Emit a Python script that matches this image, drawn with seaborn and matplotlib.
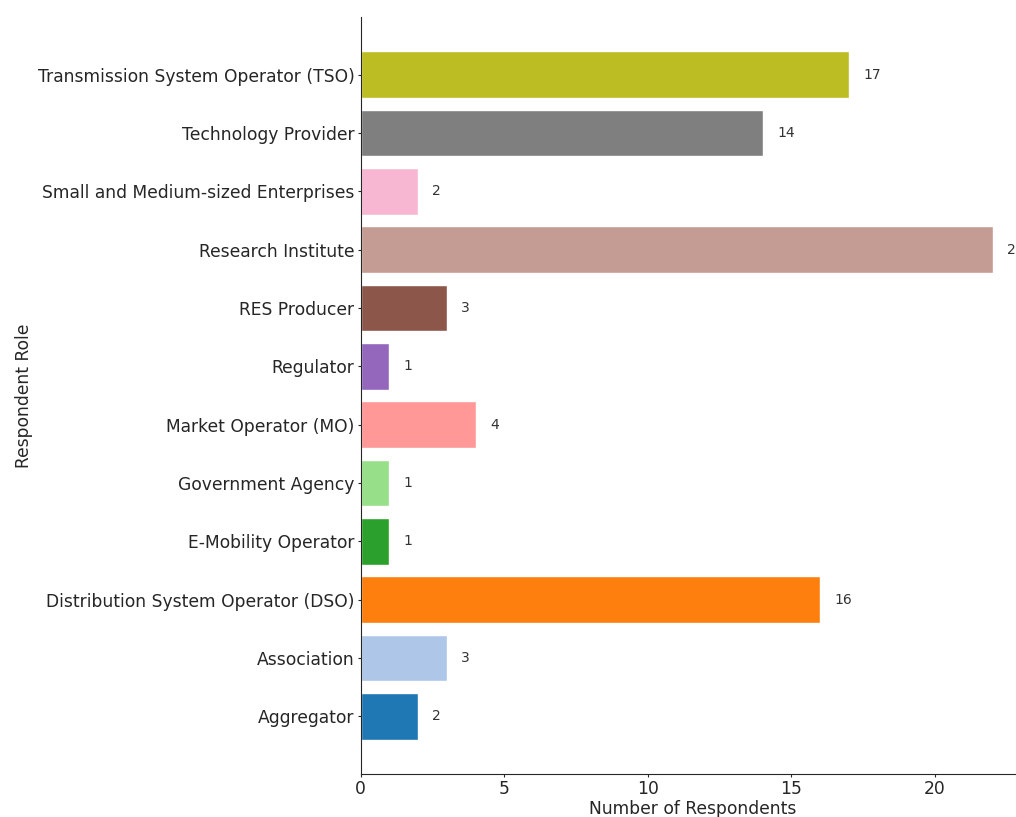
import matplotlib
matplotlib.use("Agg")
import matplotlib.pyplot as plt
import seaborn as sns
import pandas as pd

roles = [
    "Transmission System Operator (TSO)",
    "Technology Provider",
    "Small and Medium-sized Enterprises",
    "Research Institute",
    "RES Producer",
    "Regulator",
    "Market Operator (MO)",
    "Government Agency",
    "E-Mobility Operator",
    "Distribution System Operator (DSO)",
    "Association",
    "Aggregator",
]
counts = [17, 14, 2, 22, 3, 1, 4, 1, 1, 16, 3, 2]
colors = [
    "#bcbd22", "#7f7f7f", "#f7b6d2", "#c49c94", "#8c564b", "#9467bd",
    "#ff9896", "#98df8a", "#2ca02c", "#ff7f0e", "#aec7e8", "#1f77b4",
]
x_ticks = [0, 5, 10, 15, 20]

sns.set_style("ticks")
plt.rcParams['font.family'] = ['DejaVu Sans']

df = pd.DataFrame({"Role": roles, "Count": counts})

fig = plt.figure(figsize=(10.16, 8.17), dpi=100)
ax = fig.add_axes([0.355, 0.0526, 0.653, 0.9266])

sns.barplot(data=df, x="Count", y="Role", hue="Role", order=roles,
            palette=dict(zip(roles, colors)), width=0.8, legend=False,
            saturation=1, ax=ax)

for i, v in enumerate(counts):
    ax.text(v + 0.5, i, str(v), va="center", ha="left", fontsize=10, color="#333333")

ax.set_xlim(0, max(counts) * 1.05)
ax.set_ylim(len(roles) - 1 + 0.99, -0.99)
ax.set_xticks(x_ticks)
ax.tick_params(axis="x", labelsize=12.3, colors="#262626", length=2.5, pad=2)
ax.tick_params(axis="y", labelsize=12.3, colors="#262626", length=2.5, pad=2)
ax.set_xlabel("Number of Respondents", fontsize=12.3, color="#262626", labelpad=1)
ax.set_ylabel("Respondent Role", fontsize=12.3, color="#262626", labelpad=3)
sns.despine(ax=ax, top=True, right=True)
for s in ["left", "bottom"]:
    ax.spines[s].set_color("#262626")

fig.savefig("out.png", dpi=100)
